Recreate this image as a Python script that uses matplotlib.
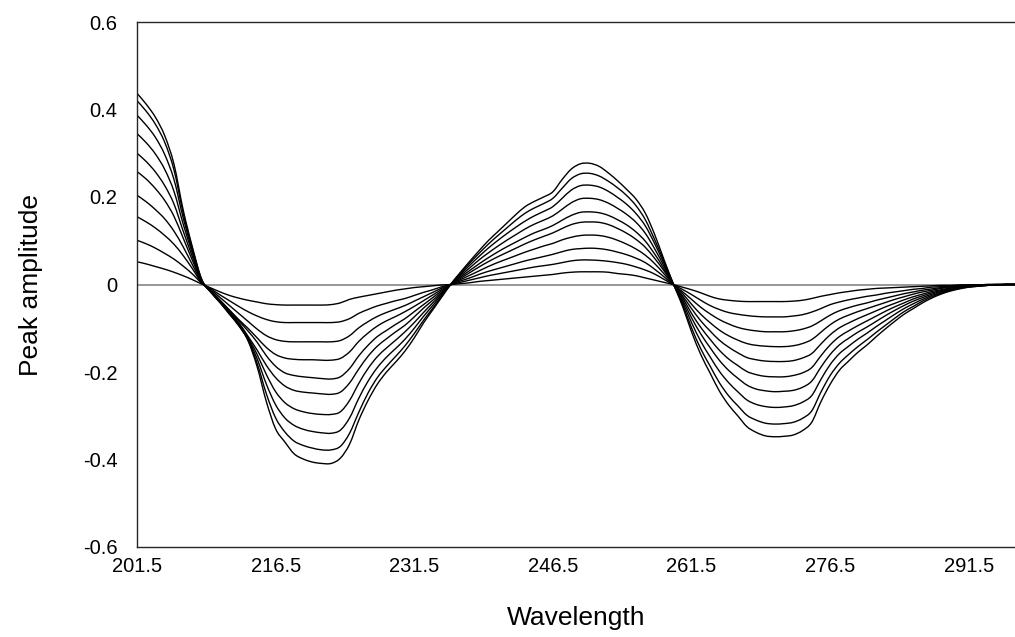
import numpy as np
import matplotlib
matplotlib.use("Agg")
import matplotlib.pyplot as plt
from matplotlib.path import Path
from matplotlib.patches import PathPatch

plt.rcParams['font.family'] = ['Liberation Sans', 'DejaVu Sans']

# wavelength grid (nm), one reading every 1 nm
wavelength = np.arange(201.5, 297.0, 1.0)

# peak amplitude of each spectrum, smallest to largest
amp_01 = [0.052, 0.047, 0.041, 0.035, 0.028, 0.020, 0.011, 0.001,
          -0.008, -0.017, -0.025, -0.031, -0.036, -0.040, -0.044, -0.046, -0.047, -0.047, -0.047, -0.047, -0.047, -0.046, -0.042,
          -0.034, -0.029, -0.025, -0.021, -0.017, -0.013, -0.010, -0.007, -0.005, -0.003, -0.001, 0.000,
          0.002, 0.004, 0.007, 0.009, 0.011, 0.013, 0.015, 0.017, 0.019, 0.021, 0.023, 0.026, 0.028, 0.029, 0.029, 0.029, 0.028, 0.025, 0.023, 0.020, 0.015, 0.010, 0.005, 0.000,
          -0.006, -0.012, -0.019, -0.027, -0.033, -0.036, -0.038, -0.039, -0.039, -0.039, -0.039, -0.039, -0.038, -0.036, -0.032,
          -0.027, -0.023, -0.019, -0.016, -0.013, -0.011, -0.009, -0.008, -0.007, -0.006, -0.005, -0.004, -0.003, -0.002, -0.002, -0.001, -0.001, -0.001, 0.000, 0.000, 0.000, 0.000]
amp_02 = [0.101, 0.093, 0.083, 0.071, 0.058, 0.042, 0.024, 0.003,
          -0.010, -0.024, -0.037, -0.050, -0.062, -0.072, -0.080, -0.085, -0.087, -0.087, -0.087, -0.087, -0.087, -0.087, -0.085,
          -0.078, -0.066, -0.057, -0.049, -0.043, -0.037, -0.032, -0.025, -0.018, -0.012, -0.005, 0.000,
          0.005, 0.010, 0.015, 0.020, 0.024, 0.028, 0.032, 0.036, 0.040, 0.043, 0.046, 0.050, 0.054, 0.056, 0.056, 0.055, 0.053, 0.050, 0.046, 0.040, 0.033, 0.024, 0.012, 0.000,
          -0.011, -0.023, -0.036, -0.048, -0.057, -0.064, -0.068, -0.071, -0.073, -0.074, -0.074, -0.074, -0.072, -0.069, -0.063,
          -0.055, -0.046, -0.040, -0.035, -0.031, -0.027, -0.024, -0.020, -0.017, -0.014, -0.011, -0.009, -0.006, -0.005, -0.003, -0.002, -0.001, -0.001, 0.000, 0.000, 0.000, 0.000]
amp_03 = [0.155, 0.143, 0.129, 0.112, 0.092, 0.066, 0.036, 0.004,
          -0.012, -0.030, -0.048, -0.066, -0.084, -0.102, -0.117, -0.126, -0.130, -0.131, -0.131, -0.131, -0.131, -0.131, -0.128,
          -0.117, -0.099, -0.085, -0.073, -0.064, -0.056, -0.048, -0.038, -0.028, -0.018, -0.008, 0.000,
          0.008, 0.015, 0.023, 0.030, 0.036, 0.042, 0.048, 0.054, 0.059, 0.064, 0.069, 0.075, 0.080, 0.082, 0.083, 0.082, 0.079, 0.074, 0.068, 0.060, 0.050, 0.035, 0.018, 0.000,
          -0.016, -0.034, -0.052, -0.067, -0.080, -0.090, -0.098, -0.103, -0.106, -0.108, -0.108, -0.108, -0.106, -0.102, -0.095,
          -0.083, -0.070, -0.060, -0.053, -0.047, -0.042, -0.036, -0.031, -0.026, -0.021, -0.017, -0.013, -0.010, -0.007, -0.005, -0.003, -0.002, -0.001, -0.001, 0.000, 0.000, 0.000]
amp_04 = [0.204, 0.189, 0.171, 0.150, 0.122, 0.086, 0.045, 0.006,
          -0.014, -0.036, -0.058, -0.080, -0.100, -0.122, -0.144, -0.160, -0.168, -0.171, -0.172, -0.172, -0.173, -0.173, -0.169,
          -0.154, -0.130, -0.111, -0.095, -0.083, -0.073, -0.062, -0.050, -0.037, -0.024, -0.011, 0.000,
          0.011, 0.021, 0.031, 0.041, 0.050, 0.058, 0.066, 0.074, 0.081, 0.088, 0.094, 0.102, 0.108, 0.112, 0.113, 0.112, 0.108, 0.101, 0.092, 0.081, 0.067, 0.048, 0.025, 0.001,
          -0.020, -0.045, -0.068, -0.087, -0.104, -0.117, -0.127, -0.135, -0.139, -0.141, -0.142, -0.142, -0.140, -0.135, -0.126,
          -0.109, -0.092, -0.079, -0.070, -0.062, -0.055, -0.048, -0.041, -0.034, -0.028, -0.022, -0.017, -0.013, -0.009, -0.006, -0.004, -0.003, -0.002, -0.001, 0.000, 0.000, 0.000]
amp_05 = [0.258, 0.241, 0.219, 0.192, 0.156, 0.106, 0.055, 0.007,
          -0.015, -0.038, -0.060, -0.083, -0.106, -0.132, -0.163, -0.187, -0.202, -0.208, -0.211, -0.213, -0.215, -0.216, -0.211,
          -0.192, -0.163, -0.139, -0.119, -0.105, -0.091, -0.078, -0.062, -0.046, -0.030, -0.014, 0.000,
          0.014, 0.027, 0.040, 0.052, 0.063, 0.073, 0.083, 0.093, 0.102, 0.110, 0.118, 0.128, 0.137, 0.142, 0.143, 0.142, 0.137, 0.128, 0.117, 0.103, 0.085, 0.060, 0.032, 0.001,
          -0.025, -0.055, -0.083, -0.106, -0.127, -0.143, -0.156, -0.167, -0.172, -0.175, -0.176, -0.176, -0.174, -0.168, -0.158,
          -0.136, -0.115, -0.099, -0.088, -0.078, -0.069, -0.060, -0.051, -0.043, -0.035, -0.028, -0.022, -0.016, -0.012, -0.008, -0.005, -0.003, -0.002, -0.001, -0.001, 0.000, 0.000]
amp_06 = [0.300, 0.281, 0.257, 0.226, 0.184, 0.122, 0.063, 0.008,
          -0.016, -0.039, -0.063, -0.087, -0.118, -0.150, -0.185, -0.213, -0.232, -0.242, -0.246, -0.248, -0.250, -0.251, -0.246,
          -0.225, -0.193, -0.164, -0.141, -0.124, -0.108, -0.093, -0.074, -0.054, -0.036, -0.017, 0.001,
          0.017, 0.032, 0.047, 0.061, 0.074, 0.086, 0.097, 0.108, 0.118, 0.126, 0.135, 0.147, 0.158, 0.165, 0.166, 0.164, 0.158, 0.148, 0.136, 0.120, 0.099, 0.070, 0.037, 0.001,
          -0.029, -0.066, -0.098, -0.125, -0.150, -0.170, -0.185, -0.199, -0.206, -0.210, -0.211, -0.211, -0.208, -0.202, -0.190,
          -0.163, -0.138, -0.119, -0.106, -0.094, -0.083, -0.072, -0.061, -0.051, -0.042, -0.033, -0.026, -0.019, -0.014, -0.009, -0.006, -0.004, -0.002, -0.001, -0.001, 0.000, 0.000]
amp_07 = [0.345, 0.324, 0.298, 0.263, 0.213, 0.138, 0.071, 0.009,
          -0.017, -0.040, -0.065, -0.090, -0.121, -0.160, -0.206, -0.245, -0.270, -0.284, -0.291, -0.295, -0.297, -0.297, -0.291,
          -0.265, -0.226, -0.192, -0.165, -0.145, -0.127, -0.108, -0.087, -0.064, -0.042, -0.020, 0.001,
          0.020, 0.038, 0.056, 0.072, 0.087, 0.101, 0.114, 0.127, 0.138, 0.147, 0.157, 0.172, 0.187, 0.196, 0.197, 0.194, 0.186, 0.174, 0.160, 0.142, 0.117, 0.082, 0.043, 0.002,
          -0.034, -0.076, -0.113, -0.144, -0.173, -0.196, -0.214, -0.230, -0.239, -0.243, -0.245, -0.244, -0.242, -0.235, -0.221,
          -0.189, -0.160, -0.138, -0.123, -0.109, -0.097, -0.084, -0.071, -0.059, -0.048, -0.038, -0.030, -0.022, -0.016, -0.011, -0.007, -0.004, -0.003, -0.002, -0.001, 0.000, 0.000]
amp_08 = [0.387, 0.364, 0.336, 0.297, 0.240, 0.152, 0.077, 0.010,
          -0.017, -0.041, -0.066, -0.092, -0.124, -0.170, -0.228, -0.275, -0.305, -0.322, -0.331, -0.336, -0.339, -0.340, -0.333,
          -0.305, -0.260, -0.221, -0.190, -0.166, -0.146, -0.125, -0.100, -0.073, -0.048, -0.023, 0.001,
          0.023, 0.044, 0.064, 0.083, 0.100, 0.116, 0.131, 0.145, 0.157, 0.167, 0.178, 0.197, 0.216, 0.226, 0.227, 0.223, 0.213, 0.199, 0.183, 0.162, 0.134, 0.094, 0.049, 0.002,
          -0.039, -0.087, -0.130, -0.165, -0.198, -0.224, -0.245, -0.264, -0.274, -0.279, -0.281, -0.280, -0.277, -0.269, -0.254,
          -0.217, -0.183, -0.158, -0.141, -0.125, -0.111, -0.096, -0.082, -0.068, -0.055, -0.044, -0.034, -0.025, -0.018, -0.012, -0.008, -0.005, -0.003, -0.002, -0.001, 0.000, 0.000]
amp_09 = [0.420, 0.396, 0.366, 0.325, 0.262, 0.163, 0.082, 0.011,
          -0.018, -0.041, -0.067, -0.093, -0.126, -0.180, -0.250, -0.305, -0.337, -0.358, -0.368, -0.374, -0.378, -0.378, -0.370,
          -0.340, -0.292, -0.248, -0.213, -0.187, -0.164, -0.140, -0.112, -0.082, -0.054, -0.026, 0.002,
          0.026, 0.049, 0.071, 0.092, 0.111, 0.129, 0.147, 0.163, 0.175, 0.185, 0.197, 0.220, 0.242, 0.253, 0.254, 0.248, 0.236, 0.221, 0.203, 0.180, 0.148, 0.103, 0.054, 0.003,
          -0.044, -0.099, -0.147, -0.186, -0.224, -0.254, -0.277, -0.299, -0.310, -0.317, -0.319, -0.318, -0.315, -0.306, -0.289,
          -0.246, -0.208, -0.180, -0.160, -0.142, -0.126, -0.109, -0.093, -0.077, -0.062, -0.050, -0.038, -0.028, -0.020, -0.014, -0.009, -0.006, -0.004, -0.002, -0.001, 0.000, 0.000]
amp_10 = [0.437, 0.412, 0.382, 0.340, 0.275, 0.170, 0.085, 0.012,
          -0.018, -0.042, -0.068, -0.094, -0.128, -0.188, -0.268, -0.330, -0.360, -0.387, -0.399, -0.406, -0.409, -0.409, -0.397,
          -0.365, -0.310, -0.265, -0.228, -0.200, -0.177, -0.152, -0.122, -0.088, -0.058, -0.028, 0.002,
          0.028, 0.053, 0.077, 0.100, 0.120, 0.140, 0.160, 0.178, 0.190, 0.200, 0.212, 0.240, 0.264, 0.276, 0.277, 0.270, 0.255, 0.237, 0.217, 0.195, 0.163, 0.115, 0.058, 0.003,
          -0.048, -0.108, -0.160, -0.202, -0.243, -0.275, -0.300, -0.325, -0.338, -0.346, -0.348, -0.347, -0.344, -0.334, -0.315,
          -0.268, -0.228, -0.196, -0.175, -0.155, -0.138, -0.119, -0.101, -0.084, -0.068, -0.055, -0.042, -0.031, -0.022, -0.015, -0.010, -0.006, -0.004, -0.002, -0.001, 0.000, 0.000]

spectra = [amp_01, amp_02, amp_03, amp_04, amp_05,
           amp_06, amp_07, amp_08, amp_09, amp_10]

x_ticks = [201.5, 216.5, 231.5, 246.5, 261.5, 276.5, 291.5]
y_ticks = [-0.6, -0.4, -0.2, 0.0, 0.2, 0.4, 0.6]
y_labels = ['-0.6', '-0.4', '-0.2', '0', '0.2', '0.4', '0.6']


def smoothed_line(x, y):
    # cubic Bezier through every point (Catmull-Rom tangents), like a spreadsheet "smoothed line"
    pts = np.column_stack([x, y]).astype(float)
    pad = np.vstack([pts[0], pts, pts[-1]])
    verts = [pts[0]]
    codes = [Path.MOVETO]
    for i in range(len(pts) - 1):
        p0, p1, p2, p3 = pad[i], pad[i + 1], pad[i + 2], pad[i + 3]
        verts += [p1 + (p2 - p0) / 6, p2 - (p3 - p1) / 6, p2]
        codes += [Path.CURVE4] * 3
    return Path(verts, codes)


fig = plt.figure(figsize=(10.15, 6.37), dpi=100)
ax = fig.add_axes([137 / 1015, 90 / 637, 878 / 1015, 525 / 637])

ax.axhline(0, color='#858585', lw=1.2, zorder=1)
for amp in spectra:
    ax.add_patch(PathPatch(smoothed_line(wavelength, amp), facecolor='none',
                           edgecolor='black', lw=1.0, zorder=2))

ax.set_xlim(201.5, 296.5)
ax.set_ylim(-0.6, 0.6)
ax.set_xticks(x_ticks)
ax.set_xticklabels([f'{v:.1f}' for v in x_ticks])
ax.set_yticks(y_ticks)
ax.set_yticklabels(y_labels)
ax.tick_params(length=0, labelsize=14.5, colors='black')
ax.tick_params(axis='y', pad=14)
ax.tick_params(axis='x', pad=7)

for side in ['left', 'bottom', 'top']:
    ax.spines[side].set_color('#262626')
    ax.spines[side].set_linewidth(1.0)
ax.spines['right'].set_visible(False)

ax.set_xlabel('Wavelength', fontsize=19, labelpad=22)
ax.set_ylabel('Peak amplitude', fontsize=19, labelpad=29)

fig.savefig('out.png', dpi=100)
